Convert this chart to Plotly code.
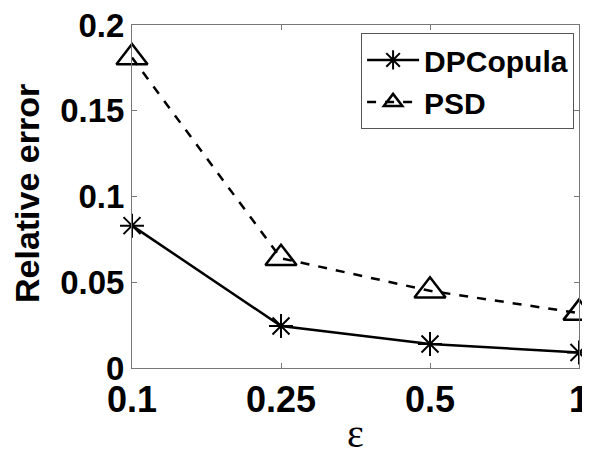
import plotly.graph_objects as go

eps_labels = ["0.1", "0.25", "0.5", "1"]
dpcopula = [0.083, 0.0245, 0.014, 0.009]
psd = [0.181, 0.064, 0.045, 0.032]
y_ticks = [0, 0.05, 0.1, 0.15, 0.2]
y_tick_text = ["0", "0.05", "0.1", "0.15", "0.2"]

bold = dict(family="Liberation Sans, Arial, sans-serif", color="black", weight="bold")

fig = go.Figure()
fig.add_trace(go.Scatter(
    x=eps_labels, y=dpcopula, name="DPCopula", mode="lines+markers",
    line=dict(color="black", width=2.5),
    marker=dict(symbol="asterisk-open", size=20, line=dict(color="black", width=2)),
    cliponaxis=False,
))
fig.add_trace(go.Scatter(
    x=eps_labels, y=psd, name="PSD", mode="lines+markers",
    line=dict(color="black", width=2.5, dash="dash"),
    marker=dict(symbol="triangle-up-open", size=27, color="black", line=dict(color="black", width=2.5)),
    cliponaxis=False,
))

# page body has an 8px default margin, so the figure is sized/offset to compensate
fig.update_layout(
    width=582, height=447,
    margin=dict(l=124, r=11, t=17, b=87),
    paper_bgcolor="white", plot_bgcolor="white",
    showlegend=True,
    legend=dict(
        x=0.989, y=0.977, xanchor="right", yanchor="top",
        bgcolor="white", bordercolor="#555", borderwidth=1,
        font=dict(size=30, **bold), itemwidth=52, tracegroupgap=0,
    ),
    annotations=[
        dict(text="ε", xref="paper", yref="paper", x=0.5, y=-0.19,
             xanchor="center", yanchor="middle", showarrow=False,
             font=dict(size=40, family="Liberation Serif, serif", color="black")),
        dict(text="Relative error", xref="paper", yref="paper", x=-0.235, y=0.51,
             xanchor="center", yanchor="middle", showarrow=False, textangle=-90,
             font=dict(size=34, **bold)),
    ],
)
fig.update_xaxes(
    type="category", range=[0, 3], automargin=False, ticklabeloverflow="allow",
    showline=True, linecolor="#777", linewidth=1, mirror="ticks",
    ticks="inside", ticklen=5, tickcolor="#777",
    showgrid=False, zeroline=False,
    tickfont=dict(size=36, **bold),
)
fig.update_yaxes(
    range=[0, 0.2], tickvals=y_ticks, ticktext=y_tick_text, automargin=False,
    ticklabeloverflow="allow",
    showline=True, linecolor="#777", linewidth=1, mirror="ticks",
    ticks="inside", ticklen=5, tickcolor="#777",
    showgrid=False, zeroline=False,
    tickfont=dict(size=33, **bold),
)

fig.write_html("out.html")
